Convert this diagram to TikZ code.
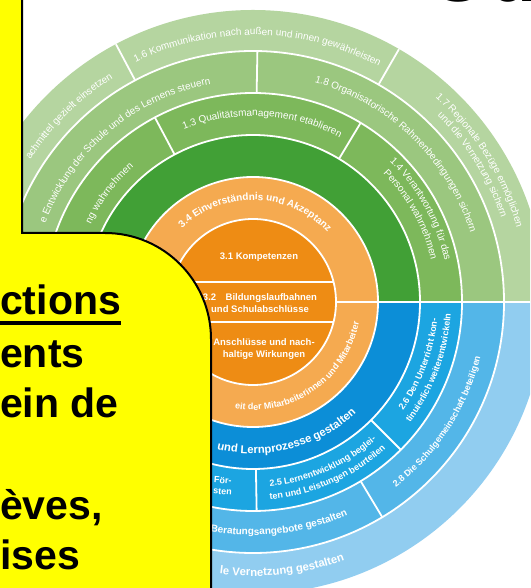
\documentclass[tikz,border=0pt]{standalone}
\usepackage{fontspec}
\setmainfont{Liberation Sans}
\setsansfont{Liberation Sans}
\usetikzlibrary{decorations.text}

\definecolor{greenouter}{HTML}{B5D5A0}
\definecolor{greenthird}{HTML}{9BC77F}
\definecolor{greensecond}{HTML}{7DB85B}
\definecolor{greendark}{HTML}{41A036}
\definecolor{orangering}{HTML}{F5AA50}
\definecolor{orangecore}{HTML}{EE8C14}
\definecolor{bluedark}{HTML}{0C8ED7}
\definecolor{bluesecond}{HTML}{1CA5E1}
\definecolor{bluethird}{HTML}{53B6E8}
\definecolor{blueouter}{HTML}{91CDF0}
\definecolor{calloutyellow}{HTML}{FFFF00}

\newcommand{\gfont}{\fontsize{10}{10}\selectfont\color{white}}
\newcommand{\bfontsmall}{\fontsize{9}{10}\selectfont\bfseries\color{white}}
\newcommand{\bfontmid}{\fontsize{9}{10}\selectfont\bfseries\color{white}}
\newcommand{\bfontbig}{\fontsize{10}{11}\selectfont\bfseries\color{white}}
\newcommand{\bfontlarge}{\fontsize{11.3}{12}\selectfont\bfseries\color{white}}

\begin{document}
\begin{tikzpicture}[x=1pt,y=1pt,font=\sffamily,
	gap/.style={white,line width=1.8pt},
	arctext/.style={decorate,decoration={text along path,text align=center,text={#1}}},
	arctextr/.style={decorate,decoration={text along path,text align=right,text={#1}}},
	calloutfont/.style={font=\fontsize{41}{41}\selectfont\bfseries,inner sep=0pt,anchor=base west}]
	\useasboundingbox (0,0) rectangle (530,588);
	\clip (0,0) rectangle (530,588);
	\fill[white] (0,0) rectangle (530,588);
	
	\begin{scope}[shift={(253,286)}]
		%rings
		\fill[orangecore] (0,0) circle[radius=83];
		\foreach \rin/\rout/\a/\b/\col in {
			83/125/0/360/orangering,
			125/167/0/180/greendark,
			167/209/0/180/greensecond,
			209/251/0/180/greenthird,
			251/292/0/180/greenouter,
			125/167/180/360/bluedark,
			167/209/180/360/bluesecond,
			209/251/180/360/bluethird,
			251/292/180/360/blueouter}
		\fill[\col] (\a:\rin) arc[start angle=\a,end angle=\b,radius=\rin]
			-- (\b:\rout) arc[start angle=\b,end angle=\a,radius=\rout] -- cycle;
		
		%dividers
		\foreach \r in {83,125,167,209,251}
		\draw[gap] (0,0) circle[radius=\r];
		\draw[gap] (180:83) -- (180:292);
		\draw[gap] (0:83) -- (0:292);
		\foreach \a/\rin/\rout in {
			118/167/209, 59/167/209, 271/167/209, 315/167/209,
			89/209/251, 301/209/251,
			118/251/292, 60/251/292}
		\draw[gap] (\a:\rin) -- (\a:\rout);
		\draw[gap] (-81,20) -- (81,20);
		\draw[gap] (-81,-20) -- (81,-20);
		
		%labels green half
		\path[arctext={|\gfont|1.6 Kommunikation nach außen und innen gewährleisten}]
			(117:267) arc[start angle=117,end angle=61,radius=267];
		\path[arctext={|\gfont|1.7 Regionale Bezüge ermöglichen}]
			(60:274) arc[start angle=60,end angle=4,radius=274];
		\path[arctext={|\gfont|und die Vernetzung sichern}]
			(60:262) arc[start angle=60,end angle=4,radius=262];
		\path[arctext={|\gfont|1.8 Organisatorische Rahmenbedingungen sichern}]
			(88:228) arc[start angle=88,end angle=4,radius=228];
		\path[arctext={|\gfont|1.3 Qualitätsmanagement etablieren}]
			(116:186) arc[start angle=116,end angle=58,radius=186];
		\path[arctext={|\gfont|1.4 Verantwortung für das}]
			(57:196) arc[start angle=57,end angle=1,radius=196];
		\path[arctext={|\gfont|Personal wahrnehmen}]
			(57:183) arc[start angle=57,end angle=1,radius=183];
		\path[arctextr={|\gfont|achmittel gezielt einsetzen}]
			(179:264) arc[start angle=179,end angle=122,radius=264];
		\path[arctextr={|\gfont|e Entwicklung der Schule und des Lernens steuern}]
			(179:222) arc[start angle=179,end angle=101,radius=222];
		\path[arctextr={|\gfont|ng wahrnehmen}]
			(179:180) arc[start angle=179,end angle=131.5,radius=180];
		
		%labels orange
		\path[arctext={|\bfontbig|3.4 Einverständnis und Akzeptanz}]
			(168:102) arc[start angle=168,end angle=9,radius=102];
		\path[arctextr={|\bfontsmall|eit der Mitarbeiterinnen und Mitarbeiter}]
			(200:108) arc[start angle=200,end angle=349,radius=108];
		\node[text=white,font=\fontsize{9.5}{12}\selectfont\bfseries] (komp) at (6,45) {3.1 Kompetenzen};
		\node[text=white,font=\fontsize{9.5}{12}\selectfont\bfseries,align=center] (bildung) at (7,-1)
			{3.2\quad Bildungslaufbahnen\\und Schulabschlüsse};
		\node[text=white,font=\fontsize{9.5}{12}\selectfont\bfseries,align=center] (anschluss) at (11,-47)
			{Anschlüsse und nach-\\haltige Wirkungen};
		
		%labels blue half
		\path[arctextr={|\bfontlarge|und Lernprozesse gestalten}]
			(200:151.5) arc[start angle=200,end angle=313,radius=151.5];
		\path[arctext={|\bfontmid|2.5 Lernentwicklung beglei-}]
			(262:185) arc[start angle=262,end angle=325,radius=185];
		\path[arctext={|\bfontmid|ten und Leistungen beurteilen}]
			(262:198) arc[start angle=262,end angle=325,radius=198];
		\path[arctext={|\bfontmid|2.6 Den Unterricht kon-}]
			(-55:185) arc[start angle=-55,end angle=14,radius=185];
		\path[arctext={|\bfontmid|tinuierlich weiterentwickeln}]
			(-55:198) arc[start angle=-55,end angle=14,radius=198];
		\path[arctext={|\bfontsmall|2.8 Die Schulgemeinschaft beteiligen}]
			(-70:234) arc[start angle=-70,end angle=4,radius=234];
		\path[arctextr={|\bfontbig|Beratungsangebote gestalten}]
			(200:233) arc[start angle=200,end angle=294,radius=233];
		\path[arctextr={|\bfontlarge|le Vernetzung gestalten}]
			(200:274) arc[start angle=200,end angle=289.5,radius=274];
		\node[text=white,font=\fontsize{9}{11}\selectfont\bfseries,align=left,rotate=-4] (foer) at (-30,-184)
			{För-\\sten};
	\end{scope}
	
	%callout
	\draw[fill=calloutyellow,line width=2pt] (-10,598) -- (22,598) -- (22,355) -- (105,355)
		arc[start angle=90,end angle=0,radius=106] -- (211,-10) -- (-10,-10) -- cycle;
	\node[calloutfont] (ctions) at (0,273) {ctions};
	\draw[line width=4.5pt] ([yshift=-8pt]ctions.base west) -- ([yshift=-8pt]ctions.base east);
	\node[calloutfont] (ents) at (0,220) {ents};
	\node[calloutfont] (einde) at (0,170) {ein de};
	\node[calloutfont] (eves) at (0,68) {èves,};
	\node[calloutfont] (ises) at (0,18) {ises};
	\node[calloutfont,font=\fontsize{80}{80}\selectfont\bfseries] (ou) at (427,586) {Ou};
\end{tikzpicture}
\end{document}
